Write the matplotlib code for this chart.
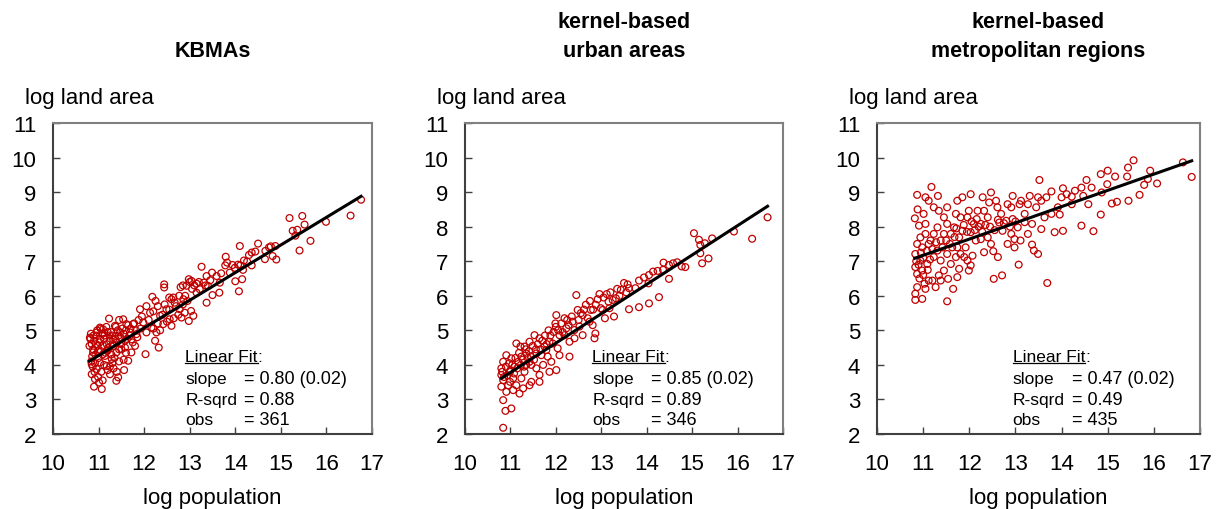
import matplotlib
matplotlib.use("Agg")
import matplotlib.pyplot as plt
import numpy as np

plt.rcParams['font.family'] = ['Liberation Sans', 'DejaVu Sans']

# (log population, log land area) per area definition
kbma_pts = [
    (16.76, 8.78), (16.53, 8.32), (15.99, 8.14), (15.65, 7.59), (15.47, 8.31), (15.19, 8.25),
    (15.52, 8.06), (15.26, 7.88), (15.36, 7.91), (15.32, 7.74), (15.41, 7.31), (14.90, 7.05),
    (14.82, 7.15), (14.65, 7.06), (14.88, 7.44), (14.78, 7.43), (14.74, 7.40), (14.66, 7.30),
    (14.50, 7.51), (14.10, 7.44), (14.36, 7.25), (14.44, 7.28), (14.30, 7.18), (14.26, 6.99),
    (14.36, 6.88), (14.19, 7.02), (14.11, 6.88), (14.06, 6.90), (13.99, 6.81), (14.17, 6.75),
    (14.15, 6.48), (14.08, 6.13), (14.00, 6.42), (13.79, 7.13), (13.82, 6.96), (13.78, 6.88),
    (13.94, 6.89), (13.88, 6.67), (13.69, 6.65), (13.59, 6.57), (13.66, 6.38), (13.65, 6.09),
    (13.50, 6.02), (13.37, 5.80), (13.26, 6.84), (13.49, 6.67), (13.37, 6.57), (13.31, 6.38),
    (13.40, 6.29), (13.22, 6.19), (13.15, 6.09), (13.04, 6.43), (12.98, 6.48), (12.93, 6.29),
    (13.08, 5.42), (12.98, 5.27), (13.03, 5.56), (12.89, 5.51), (12.44, 6.33), (12.44, 6.24),
    (12.18, 5.97), (12.60, 5.13), (12.32, 4.50), (12.03, 4.31), (12.24, 4.70), (12.77, 6.00),
    (12.64, 5.95), (12.78, 5.61), (12.82, 5.37), (12.49, 5.61), (12.35, 5.42), (12.13, 5.51),
    (11.91, 5.61), (11.98, 5.23), (12.16, 5.08), (12.42, 5.18), (12.56, 5.32), (12.67, 5.80),
    (12.86, 5.90), (12.05, 4.94), (12.27, 4.94), (11.83, 4.89), (11.76, 5.18), (11.80, 4.55),
    (11.72, 4.36), (11.65, 4.12), (11.56, 3.85), (11.39, 3.54), (11.43, 3.64), (11.25, 3.73),
    (11.18, 3.97), (11.07, 3.30), (10.90, 3.37), (11.01, 3.49), (10.92, 3.59), (10.85, 3.73),
    (10.96, 3.88), (11.03, 4.07), (10.85, 4.02), (10.81, 4.79), (10.80, 4.55), (10.88, 4.36),
    (10.96, 4.94), (11.03, 5.08), (11.10, 5.03), (11.23, 5.34), (11.36, 5.13), (11.32, 4.74),
    (11.21, 4.50), (11.14, 4.26), (11.47, 4.94), (11.54, 5.32), (11.61, 5.18), (11.39, 4.36),
    (11.29, 4.17), (11.50, 4.45), (11.58, 4.70), (11.69, 4.94), (11.72, 4.74),
    (10.82, 4.75), (10.85, 4.60), (10.88, 4.45), (10.90, 4.70), (10.93, 4.30), (10.95, 4.85),
    (10.98, 4.55), (11.00, 4.20), (11.02, 4.65), (11.05, 4.40), (11.08, 4.90), (11.10, 4.55),
    (11.12, 4.75), (11.15, 4.35), (11.18, 4.60), (11.20, 4.95), (11.22, 4.45), (11.25, 4.70),
    (11.28, 4.30), (11.30, 4.85), (11.33, 4.55), (11.35, 4.20), (11.40, 4.65), (11.42, 5.00),
    (11.45, 4.45), (11.48, 4.80), (11.50, 4.60), (11.52, 5.05), (11.55, 4.90), (11.58, 4.50),
    (11.60, 5.00), (11.62, 4.75), (11.65, 5.15), (11.68, 4.85), (11.70, 5.05), (11.75, 4.65),
    (11.78, 5.20), (11.82, 5.00), (11.85, 4.80), (11.88, 5.30), (11.92, 5.05), (11.95, 5.40),
    (10.84, 4.10), (10.87, 3.95), (10.92, 4.05), (11.06, 3.80), (11.12, 4.00), (11.25, 3.95),
    (11.33, 3.90), (11.45, 4.10), (11.55, 4.15), (11.60, 4.35), (10.83, 4.90), (10.97, 5.00),
    (11.05, 5.05), (11.17, 5.10), (11.27, 4.95), (11.38, 5.10), (11.45, 5.30),
    (12.10, 5.30), (12.20, 5.55), (12.30, 5.20), (12.40, 5.45), (12.45, 5.75), (12.55, 5.60),
    (12.60, 5.90), (12.70, 5.70), (12.75, 5.45), (12.85, 5.75), (12.90, 6.00), (12.95, 5.85),
    (13.05, 6.20), (13.10, 6.30), (13.15, 6.35), (12.20, 5.05), (12.35, 5.00), (12.50, 5.25),
    (12.65, 5.35), (12.05, 5.70), (12.25, 5.85), (12.30, 5.70), (12.55, 5.95), (12.80, 6.25),
    (12.85, 6.30), (13.00, 6.40), (13.20, 6.40), (13.35, 6.30), (13.45, 6.45),
    (10.86, 4.25), (10.89, 4.85), (10.94, 4.60), (10.99, 4.40), (11.04, 4.75), (11.09, 4.30),
    (11.13, 4.85), (11.19, 4.40), (11.24, 4.85), (11.31, 4.60), (11.37, 4.75), (11.44, 4.85),
    (10.91, 3.80), (10.99, 3.65), (11.09, 3.55), (11.20, 3.85), (11.30, 4.05), (11.40, 3.80),
]

urban_pts = [
    (16.66, 8.27), (16.32, 7.65), (15.92, 7.86), (15.44, 7.66), (15.36, 7.08), (15.22, 6.94),
    (15.18, 7.23), (15.18, 7.47), (15.28, 7.52), (15.15, 7.62), (15.04, 7.81), (14.85, 6.83),
    (14.77, 6.85), (14.67, 6.97), (14.58, 6.94), (14.49, 6.89), (14.37, 6.96), (14.36, 6.75),
    (14.49, 6.49), (14.27, 5.96), (14.24, 6.72), (14.14, 6.70), (14.05, 6.60), (14.04, 6.36),
    (14.05, 5.78), (13.83, 5.67), (13.83, 6.44), (13.94, 6.53), (13.75, 6.22), (13.61, 5.61),
    (13.58, 6.33), (13.50, 6.37), (13.61, 6.22), (13.43, 6.17), (13.32, 5.93), (13.25, 5.88),
    (13.28, 5.40), (13.16, 5.83), (12.96, 6.05), (13.08, 5.35), (12.99, 5.64), (12.88, 5.74),
    (12.77, 5.59), (12.66, 5.74), (12.70, 5.35), (12.48, 5.59), (12.45, 6.02), (12.37, 5.25),
    (12.85, 4.77), (12.87, 4.91), (12.59, 4.86), (12.30, 4.67), (12.30, 4.24), (12.19, 5.35),
    (12.01, 5.44), (11.99, 5.20), (12.08, 4.86), (11.93, 4.62), (12.04, 4.48), (11.86, 4.67),
    (11.75, 4.53), (11.64, 4.77), (11.53, 4.86), (11.42, 4.67), (11.31, 4.53), (11.13, 4.62),
    (11.22, 4.53), (10.91, 4.28), (10.84, 4.09), (11.02, 4.19), (11.17, 4.09), (11.35, 4.00),
    (11.57, 3.90), (11.86, 3.80), (12.01, 3.85), (11.90, 4.09), (11.72, 4.00), (11.64, 3.71),
    (11.46, 3.51), (11.42, 3.41), (11.20, 3.17), (11.06, 3.27), (10.95, 3.41), (10.84, 3.56),
    (10.80, 3.37), (10.91, 3.22), (10.84, 2.98), (10.89, 2.67), (11.02, 2.74), (10.84, 2.18),
    (10.80, 3.71), (10.80, 3.90), (10.99, 3.80), (11.06, 3.61), (11.24, 3.61), (11.31, 3.80),
    (11.42, 4.09), (11.57, 4.33), (11.68, 4.28), (11.79, 4.43), (11.82, 4.24), (11.35, 4.33),
    (11.24, 4.24), (11.09, 3.95), (10.99, 3.51), (11.13, 3.41), (11.28, 3.32), (11.64, 3.51),
    (11.46, 4.00), (12.19, 4.86), (12.23, 5.06), (12.41, 5.01), (12.52, 5.11), (12.41, 4.77),
    (12.08, 4.28), (12.59, 5.44), (12.74, 5.25), (12.81, 5.15), (13.03, 5.59), (13.18, 5.64),
    (10.82, 3.80), (10.86, 3.65), (10.90, 3.95), (10.93, 3.70), (10.97, 4.05), (11.00, 3.85),
    (11.04, 4.00), (11.08, 3.75), (11.11, 4.20), (11.15, 3.90), (11.19, 4.35), (11.23, 4.00),
    (11.27, 4.15), (11.30, 3.95), (11.34, 4.45), (11.38, 4.20), (11.41, 4.40), (11.45, 4.25),
    (11.49, 4.55), (11.52, 4.15), (11.56, 4.45), (11.60, 4.60), (11.66, 4.45), (11.70, 4.70),
    (11.76, 4.85), (11.80, 4.60), (11.84, 5.00), (11.88, 4.85), (11.95, 4.95), (12.00, 5.10),
    (12.05, 5.00), (12.12, 5.20), (12.15, 4.95), (12.25, 5.30), (12.28, 5.15), (12.35, 5.40),
    (12.50, 5.30), (12.55, 5.50), (12.62, 5.60), (12.75, 5.85), (12.82, 5.60), (12.92, 5.90),
    (13.05, 5.95), (13.12, 6.05), (13.20, 6.10), (13.35, 6.20), (13.40, 6.00), (13.55, 6.10),
]

metro_pts = [
    (16.82, 9.44), (16.63, 9.86), (16.07, 9.25), (15.92, 9.62), (15.87, 9.38), (15.79, 9.21),
    (15.69, 8.92), (15.56, 9.92), (15.44, 9.71), (15.42, 9.45), (15.45, 8.75), (15.16, 9.45),
    (15.20, 8.72), (15.09, 8.67), (15.00, 9.62), (14.99, 9.23), (14.85, 9.52), (14.85, 8.35),
    (14.87, 8.99), (14.65, 9.13), (14.54, 9.35), (14.58, 8.65), (14.47, 8.89), (14.43, 9.13),
    (14.43, 8.03), (14.69, 7.87), (14.29, 9.04), (14.22, 8.87), (14.11, 8.94), (14.03, 9.11),
    (14.00, 8.85), (14.03, 7.88), (13.92, 8.56), (13.96, 8.35), (13.85, 7.84), (13.78, 9.02),
    (13.78, 8.37), (13.67, 8.85), (13.52, 9.35), (13.56, 8.75), (13.56, 7.93), (13.49, 8.85),
    (13.45, 8.56), (13.36, 8.08), (13.36, 7.48), (13.40, 7.31), (13.49, 7.21), (13.69, 6.37),
    (13.31, 8.89), (13.27, 8.65), (13.20, 8.37), (13.12, 8.75), (13.09, 8.65), (13.05, 7.98),
    (13.11, 7.60), (12.98, 7.40), (13.07, 6.90), (12.94, 8.89), (12.91, 8.56), (12.83, 8.65),
    (12.80, 8.17), (12.72, 7.88), (12.65, 8.12), (12.61, 8.56), (12.58, 8.75), (12.47, 8.99),
    (12.43, 8.70), (12.32, 8.46), (12.29, 8.85), (12.25, 8.08), (12.18, 8.46), (12.16, 8.22),
    (12.03, 8.94), (11.99, 8.46), (11.96, 8.27), (12.03, 7.84), (11.92, 7.40), (11.96, 7.02),
    (12.03, 6.88), (11.99, 6.73), (11.85, 8.85), (11.74, 8.75), (11.71, 8.37), (11.81, 8.27),
    (11.67, 7.98), (11.78, 7.69), (11.63, 7.40), (11.71, 7.12), (11.78, 6.78), (11.74, 6.54),
    (11.65, 6.20), (11.54, 6.49), (11.52, 5.84), (12.53, 6.49), (12.71, 6.59), (12.62, 7.12),
    (12.32, 7.26), (12.52, 7.29), (11.52, 8.56), (11.45, 8.27), (11.34, 8.46), (11.32, 8.89),
    (11.18, 9.15), (11.23, 8.56), (11.12, 8.75), (11.05, 8.85), (11.01, 8.37), (10.87, 8.92),
    (10.82, 8.24), (10.91, 8.03), (11.05, 8.08), (11.23, 7.79), (11.38, 7.60), (11.45, 7.79),
    (11.52, 8.08), (11.31, 7.31), (11.12, 7.50), (10.98, 7.40), (10.87, 7.50), (10.83, 7.21),
    (10.94, 7.02), (10.83, 6.83), (10.87, 6.63), (10.98, 6.73), (11.09, 6.92), (11.23, 7.12),
    (11.38, 7.02), (11.52, 7.21), (11.60, 6.92), (11.45, 6.73), (11.34, 6.59), (11.20, 6.44),
    (11.03, 6.35), (10.87, 6.25), (10.83, 6.06), (10.83, 5.88), (10.98, 5.91), (11.05, 6.20),
    (11.27, 6.25), (11.12, 6.44), (11.38, 6.44), (10.94, 7.69), (11.05, 7.79), (11.16, 7.60),
    (11.31, 7.98), (11.74, 7.40), (11.81, 7.21), (12.14, 7.60), (12.25, 7.64), (12.40, 7.69),
    (12.07, 7.16), (11.89, 7.12), (11.60, 7.79), (11.85, 7.88), (12.91, 7.79), (13.27, 7.79),
    (12.83, 7.50), (12.98, 7.64), (12.47, 7.50), (12.10, 8.08), (12.40, 8.27), (12.69, 8.37),
    (12.94, 8.22), (13.20, 8.13), (13.63, 8.27), (14.22, 8.65),
    (10.85, 7.00), (10.90, 6.90), (10.95, 7.25), (11.00, 7.10), (11.08, 7.30), (11.15, 7.05),
    (11.20, 7.35), (11.28, 7.55), (11.42, 7.40), (11.50, 7.60), (11.58, 7.50), (11.68, 7.70),
    (11.72, 7.95), (11.88, 8.05), (11.95, 7.85), (12.05, 8.15), (12.12, 7.90), (12.20, 8.00),
    (12.28, 7.85), (12.35, 8.05), (12.45, 8.00), (12.55, 7.90), (12.62, 8.20), (12.75, 8.10),
    (12.88, 8.00), (13.00, 8.15), (10.92, 6.50), (11.00, 6.60), (11.10, 6.75), (10.88, 8.50),
]

fits = [  # slope, intercept, R-squared, obs
    (0.80, -4.53, 0.88, 361),
    (0.85, -5.57, 0.89, 346),
    (0.47, 2.00, 0.49, 435),
]
titles = ['KBMAs', 'kernel-based\nurban areas', 'kernel-based\nmetropolitan regions']
datasets = [kbma_pts, urban_pts, metro_pts]

fig = plt.figure(figsize=(12.16, 5.10), dpi=100)
lefts = [53, 465, 877]
widths = [319, 318, 323]
box_x = [0.415, 0.40, 0.42]
red = '#c00000'

for left, w, bx, pts, fit, title in zip(lefts, widths, box_x, datasets, fits, titles):
    ax = fig.add_axes([left / 1216, 75 / 510, w / 1216, 311 / 510])
    xy = np.array(pts)
    ax.scatter(xy[:, 0], xy[:, 1], s=24, facecolors='none', edgecolors=red, linewidths=0.9, zorder=2)
    slope, icpt, r2, n = fit
    xs = np.array([xy[:, 0].min(), xy[:, 0].max()])
    ax.plot(xs, icpt + slope * xs, color='black', lw=2.2, zorder=3)

    ax.set_xlim(10, 17)
    ax.set_ylim(2, 11)
    ax.set_xticks(range(10, 18))
    ax.set_yticks(range(2, 12))
    ax.tick_params(direction='in', length=5, width=1, color='#404040', labelsize=16)
    ax.tick_params(axis='x', pad=14)
    ax.tick_params(axis='y', pad=12)
    for side in ['left', 'bottom']:
        ax.spines[side].set_color('#404040')
        ax.spines[side].set_linewidth(1.5)
    for side in ['top', 'right']:
        ax.spines[side].set_color('#808080')
        ax.spines[side].set_linewidth(1.5)

    ax.set_xlabel('log population', fontsize=16, labelpad=9)
    ax.text(-0.088, 1.082, 'log land area', transform=ax.transAxes, fontsize=16, va='center', ha='left')
    ax.text(0.5, 1.200, title, transform=ax.transAxes, fontsize=15.5, fontweight='bold',
            ha='center', va='bottom', linespacing=1.5)

    # fit statistics box
    x1 = bx + 0.185
    hdr = ax.text(bx, 0.248, 'Linear Fit', transform=ax.transAxes, fontsize=12.5, va='center')
    fig.canvas.draw()
    bb = hdr.get_window_extent().transformed(ax.transAxes.inverted())
    ax.text(bb.x1, 0.248, ':', transform=ax.transAxes, fontsize=12.5, va='center')
    ax.plot([bb.x0, bb.x1], [bb.y0 + 0.003, bb.y0 + 0.003], transform=ax.transAxes,
            color='black', lw=0.9, clip_on=False)
    rows = [('slope', '= %.2f (0.02)' % slope), ('R-sqrd', '= %.2f' % r2), ('obs', '= %d' % n)]
    for i, (lab, val) in enumerate(rows):
        yy = 0.177 - i * 0.065
        ax.text(bx, yy, lab, transform=ax.transAxes, fontsize=12.5, va='center')
        ax.text(x1, yy, val, transform=ax.transAxes, fontsize=13, va='center')

fig.savefig('out.png', dpi=100)
